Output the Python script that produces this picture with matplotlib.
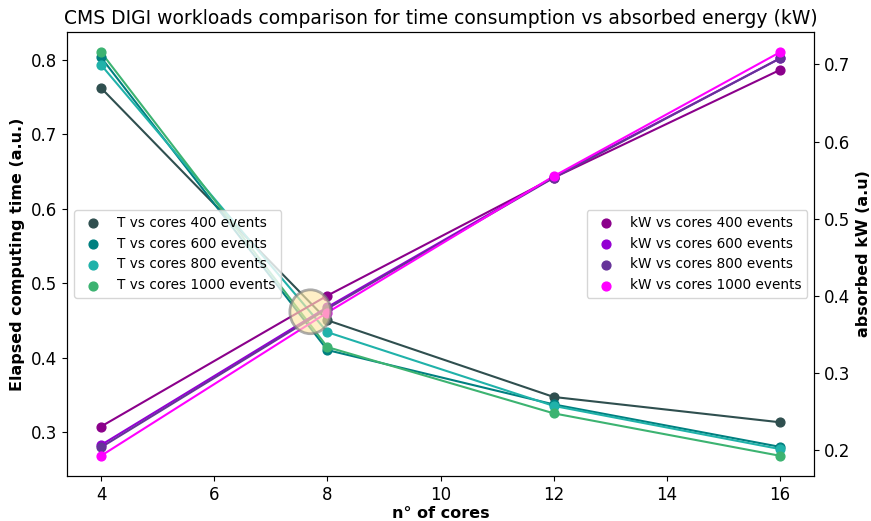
import matplotlib
matplotlib.use("Agg")
import matplotlib.pyplot as plt
from matplotlib.patches import Ellipse

cores = [4, 8, 12, 16]
events = [400, 600, 800, 1000]

# elapsed time (a.u.) per event count
time_400 = [0.762, 0.450, 0.347, 0.313]
time_600 = [0.803, 0.410, 0.337, 0.280]
time_800 = [0.793, 0.434, 0.335, 0.277]
time_1000 = [0.810, 0.414, 0.325, 0.268]

# absorbed kW (a.u.) per event count
kw_400 = [0.230, 0.400, 0.553, 0.693]
kw_600 = [0.206, 0.385, 0.554, 0.708]
kw_800 = [0.203, 0.383, 0.553, 0.708]
kw_1000 = [0.192, 0.378, 0.555, 0.716]

t_colors = ["darkslategray", "teal", "lightseagreen", "mediumseagreen"]
kw_colors = ["darkmagenta", "darkviolet", "rebeccapurple", "magenta"]

fig = plt.figure(figsize=(8.71, 5.21), dpi=100)
ax = fig.add_axes([0.077, 0.0864, 0.8576, 0.8522])
ax2 = ax.twinx()

for vals, col, ev in zip([time_400, time_600, time_800, time_1000], t_colors, events):
    ax.plot(cores, vals, color=col, lw=1.5)
    ax.scatter(cores, vals, color=col, s=40, zorder=3, label=f"T vs cores {ev} events")

for vals, col, ev in zip([kw_400, kw_600, kw_800, kw_1000], kw_colors, events):
    ax2.plot(cores, vals, color=col, lw=1.5)
    ax2.scatter(cores, vals, color=col, s=40, zorder=3, label=f"kW vs cores {ev} events")

# crossing point highlight
ell = Ellipse((7.70, 0.379), width=0.725, height=0.057, facecolor="#ffe7a8",
              edgecolor="gray", lw=2, alpha=0.65, zorder=5)
ax2.add_patch(ell)

ax.set_title("CMS DIGI workloads comparison for time consumption vs absorbed energy (kW)",
             fontsize=13.5)
ax.set_xlabel("n° of cores", fontsize=11.5, fontweight="bold", labelpad=2)
ax.set_ylabel("Elapsed computing time (a.u.)", fontsize=11.5, fontweight="bold")
ax2.set_ylabel("absorbed kW (a.u)", fontsize=11.5, fontweight="bold")
ax.tick_params(labelsize=12)
ax2.tick_params(labelsize=12)

ax.legend(loc="center left", fontsize=9.8)
ax2.legend(loc="center right", fontsize=9.8)

fig.savefig("out.png", dpi=100)
